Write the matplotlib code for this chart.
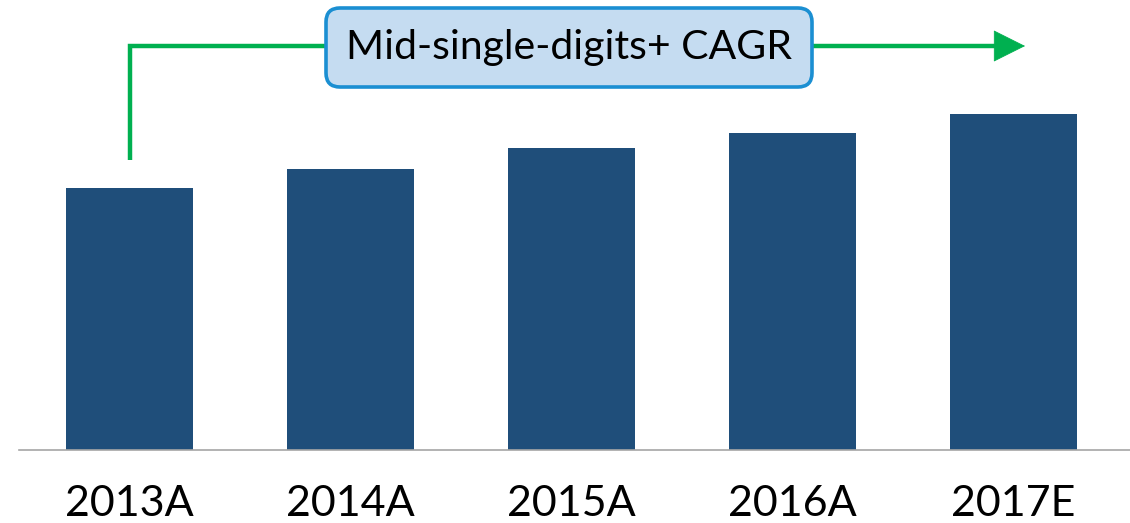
import matplotlib
matplotlib.use('Agg')
import matplotlib.pyplot as plt
from matplotlib.patches import FancyBboxPatch, FancyArrowPatch
from matplotlib.transforms import IdentityTransform

# Chart data (bar heights, arbitrary units)
years = ['2013A', '2014A', '2015A', '2016A', '2017E']
values = [262, 281, 302, 317, 336]
cagr_label = 'Mid-single-digits+ CAGR'

bar_color = '#1f4e7a'
green = '#00b050'
font = 'Lato'

fig = plt.figure(figsize=(11.3, 5.23), dpi=100)
ax = fig.add_axes([19 / 1130, 73 / 523, 1 - 19 / 1130, 450 / 523])

x = list(range(len(years)))
ax.bar(x, values, width=0.575, color=bar_color)
ax.set_xlim(-0.5, 4.527)
ax.set_ylim(0, 450)

# Only the bottom axis line
for side in ['top', 'right', 'left']:
    ax.spines[side].set_visible(False)
ax.spines['bottom'].set_color('#a6a6a6')
ax.spines['bottom'].set_linewidth(1.2)
ax.set_yticks([])
ax.set_xticks(x)
ax.set_xticklabels(years, fontsize=31, fontfamily=font)
ax.tick_params(axis='x', length=0, pad=25)

# Green growth arrow from the first bar: shaft as one line, head as a patch
tip = 4.052
ax.plot([x[0], x[0], tip - 0.12], [290, 404, 404], color=green, lw=3.2,
        solid_joinstyle='miter', solid_capstyle='butt')
head = FancyArrowPatch((tip - 0.14, 404), (tip, 404),
                       arrowstyle='-|>,head_length=1.08,head_width=0.54',
                       mutation_scale=20, color=green, lw=0.5,
                       shrinkA=0, shrinkB=0)
ax.add_patch(head)

# CAGR label box (pixel coordinates)
box = FancyBboxPatch((326, 523 - 87), 486, 79,
                     boxstyle='round,pad=0,rounding_size=14',
                     transform=IdentityTransform(),
                     facecolor='#c5dcf1', edgecolor='#1b8fd2', lw=2.6, zorder=5)
fig.add_artist(box)
fig.text(569 / 1130, 1 - 47 / 523, cagr_label, fontsize=29.5, fontfamily=font,
         ha='center', va='center', zorder=6)

fig.savefig('out.png', dpi=100)
